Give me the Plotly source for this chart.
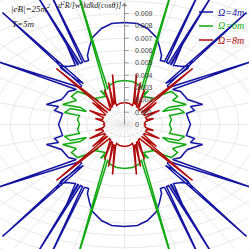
import numpy as np
import plotly.graph_objects as go

# ---- data (units of 1e-3), first quadrant, from theta=90deg down to 0deg ----
blue_x = [0, 0.68, 1.21, 1.68, 1.84, 1.95, 1.89, 2.05, 2.11, 4.0, 2.21, 2.32, 4.63, 2.42,
          2.47, 3.05, 2.58, 2.63, 3.0, 3.42, 3.58, 3.32, 2.89, 2.47, 2.16, 6.42, 2.26,
          2.32, 6.84, 2.53, 2.95, 3.16, 3.32, 4.11, 3.47, 3.68, 3.26, 3.37, 3.47]
blue_y = [8.27, 8.19, 7.79, 7.06, 6.33, 5.60, 5.19, 5.11, 5.11, 10.95, 5.03, 4.95, 10.54, 4.87,
          4.87, 6.49, 4.79, 4.79, 4.70, 4.79, 5.19, 4.54, 4.06, 3.57, 3.33, 9.08, 3.16,
          3.0, 5.19, 2.84, 2.68, 2.27, 2.03, 1.62, 1.46, 1.14, 0.89, 0.41, 0]

green_x = [0, 0.42, 0.74, 0.84, 0.89, 2.74, 1.0, 1.05, 1.26, 1.0, 1.58, 1.37, 2.0, 2.47,
           2.79, 2.53, 3.26, 2.32, 2.0, 2.84, 3.16, 2.37, 2.47, 2.37]
green_y = [3.57, 3.49, 3.24, 3.0, 2.92, 12.17, 2.84, 2.51, 2.76, 2.27, 2.11, 1.95, 2.43, 2.68,
           2.27, 1.95, 1.62, 1.38, 1.05, 1.30, 0.97, 0.73, 0.41, 0]

red_x = [0, 0.26, 0.42, 0.47, 0.63, 0.53, 0.58, 0.84, 0.63, 0.68, 1.05, 0.74, 0.79, 3.58,
         0.89, 0.95, 1.68, 1.0, 1.05, 1.84, 1.11, 1.16, 1.53, 1.11, 1.05, 1.11]
red_y = [1.78, 1.70, 1.54, 1.78, 4.06, 1.70, 1.62, 3.41, 1.46, 1.38, 2.84, 1.22, 1.14, 4.54,
         0.97, 0.97, 1.78, 0.81, 0.73, 1.14, 0.57, 0.41, 0.49, 0.24, 0.08, 0]

series_names = ["Ω=4m", "Ω=6m", "Ω=8m"]
series_colors = ["#1414a0", "#12aa12", "#b00c0c"]
radial_ticks = [0, 1, 2, 3, 4, 5, 6, 7, 8, 9]
radial_tick_labels = ["0", "0.001", "0.002", "0.003", "0.004", "0.005", "0.006", "0.007", "0.008", "0.009"]

SCALE = 1e-3


def full_curve(qx, qy):
    qx = np.array(qx) * SCALE
    qy = np.array(qy) * SCALE
    xs = np.concatenate([qx, qx[::-1], -qx, -qx[::-1]])
    ys = np.concatenate([qy, -qy[::-1], -qy, qy[::-1]])
    return xs, ys


fig = go.Figure()

# polar grid
grid_col = "#e2e2e2"
t = np.linspace(0, 2 * np.pi, 361)
for r in range(1, 15):
    fig.add_trace(go.Scatter(x=r * SCALE * np.cos(t), y=r * SCALE * np.sin(t), mode="lines",
                             line=dict(color=grid_col, width=0.8), hoverinfo="skip"))
for a in range(0, 360, 15):
    ar = np.deg2rad(a)
    fig.add_trace(go.Scatter(x=[0, 0.02 * np.cos(ar)], y=[0, 0.02 * np.sin(ar)], mode="lines",
                             line=dict(color=grid_col, width=0.8), hoverinfo="skip"))

# curves
for (qx, qy), name, col in zip([(blue_x, blue_y), (green_x, green_y), (red_x, red_y)],
                               series_names, series_colors):
    xs, ys = full_curve(qx, qy)
    fig.add_trace(go.Scatter(x=xs, y=ys, mode="lines", name=name,
                             line=dict(color=col, width=1.5)))

# radial axis
fig.add_trace(go.Scatter(x=[0, 0], y=[0, 0.0097], mode="lines",
                         line=dict(color="#888888", width=0.9), hoverinfo="skip"))
fig.add_trace(go.Scatter(x=[0], y=[0.0097], mode="markers",
                         marker=dict(symbol="triangle-up", size=5, color="#888888"), hoverinfo="skip"))
for v in radial_ticks[1:]:
    fig.add_trace(go.Scatter(x=[0, 0.00022], y=[v * SCALE, v * SCALE], mode="lines",
                             line=dict(color="#888888", width=0.8), hoverinfo="skip"))

annotations = []
for v, lab in zip(radial_ticks, radial_tick_labels):
    annotations.append(dict(x=0.00045, y=v * SCALE, xref="x", yref="y", text=lab, showarrow=False,
                            xanchor="left", yanchor="middle",
                            font=dict(family="Liberation Sans", size=7, color="#444444")))

serif = "Liberation Serif"
annotations.append(dict(x=-0.00008, y=1 - 5 / 249, xref="x", yref="paper",
                        text="<i>d<sup>2</sup>R/[w<sup>2</sup>kdkd(cosθ)]</i>", showarrow=False,
                        xanchor="right", yanchor="middle",
                        font=dict(family=serif, size=8, color="#222222")))
annotations.append(dict(x=9 / 249, y=1 - 8 / 249, xref="paper", yref="paper",
                        text="<i>|eB|=25m<sup>2</sup></i>", showarrow=False,
                        xanchor="left", yanchor="middle",
                        font=dict(family=serif, size=9, color="#222222")))
annotations.append(dict(x=10 / 249, y=1 - 24 / 249, xref="paper", yref="paper",
                        text="<i>T=5m</i>", showarrow=False,
                        xanchor="left", yanchor="middle",
                        font=dict(family=serif, size=9, color="#222222")))

shapes = []
legend_y = [12, 26, 40]
for name, col, py in zip(series_names, series_colors, legend_y):
    yp = 1 - py / 249
    shapes.append(dict(type="line", xref="paper", yref="paper", x0=199 / 249, x1=213 / 249,
                       y0=yp, y1=yp, line=dict(color=col, width=1.5)))
    annotations.append(dict(x=216 / 249, y=yp, xref="paper", yref="paper", text="<i>" + name + "</i>",
                            showarrow=False, xanchor="left", yanchor="middle",
                            font=dict(family=serif, size=10, color=col)))

fig.update_layout(
    width=249, height=249, margin=dict(l=0, r=0, t=0, b=0),
    paper_bgcolor="white", plot_bgcolor="white", showlegend=False,
    xaxis=dict(range=[-0.00655, 0.00655], visible=False, fixedrange=True),
    yaxis=dict(range=[-0.0101, 0.0101], visible=False, fixedrange=True),
    annotations=annotations, shapes=shapes,
)

fig.write_html("out.html", config={"displayModeBar": False},
               post_script="document.body.style.margin='0';document.body.style.overflow='hidden';")
